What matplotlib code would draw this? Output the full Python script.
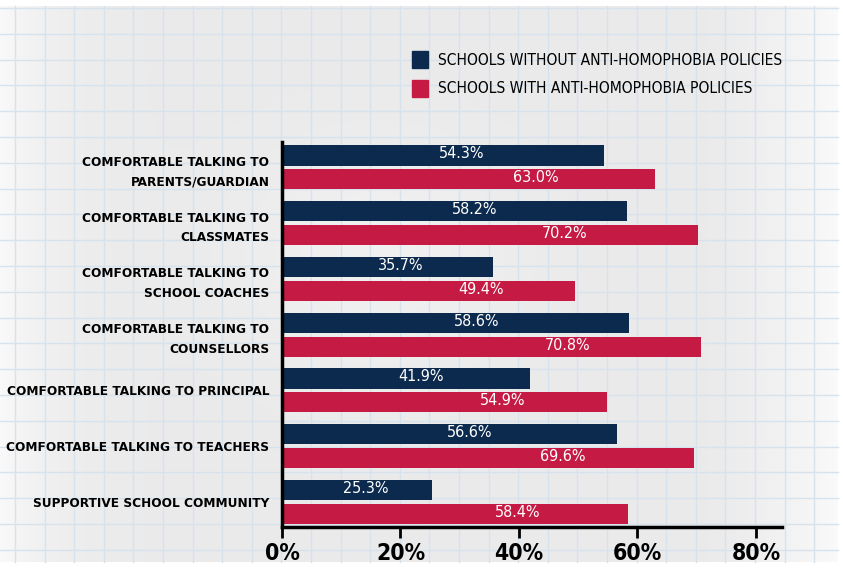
import matplotlib
matplotlib.use('Agg')
import matplotlib.pyplot as plt
import numpy as np
from matplotlib.patches import Patch

plt.rcParams['font.family'] = ['DejaVu Sans']
plt.rcParams['font.stretch'] = 'condensed'

# data
categories = ['COMFORTABLE TALKING TO\nPARENTS/GUARDIAN',
              'COMFORTABLE TALKING TO\nCLASSMATES',
              'COMFORTABLE TALKING TO\nSCHOOL COACHES',
              'COMFORTABLE TALKING TO\nCOUNSELLORS',
              'COMFORTABLE TALKING TO PRINCIPAL',
              'COMFORTABLE TALKING TO TEACHERS',
              'SUPPORTIVE SCHOOL COMMUNITY']
without_policy = [54.3, 58.2, 35.7, 58.6, 41.9, 56.6, 25.3]
with_policy = [63.0, 70.2, 49.4, 70.8, 54.9, 69.6, 58.4]
series_names = ['SCHOOLS WITHOUT ANTI-HOMOPHOBIA POLICIES',
                'SCHOOLS WITH ANTI-HOMOPHOBIA POLICIES']
x_ticks = [0, 20, 40, 60, 80]

navy = '#0c2a4e'
red = '#c51a44'
grid_blue = '#d6e3ed'

W, H = 843, 568
fig = plt.figure(figsize=(W / 100, H / 100), dpi=100)
fig.patch.set_facecolor('white')

# graph paper background
bg = fig.add_axes([0, 0, 1, 1])
bg.set_xlim(0, W)
bg.set_ylim(H, 0)
bg.axis('off')
xx = np.linspace(0, 1, 400)
yy = np.linspace(0, 1, 300)
gx, gy = np.meshgrid(xx, yy)
shade = 0.918 + 0.06 * np.exp(-(gx / 0.06)) + 0.06 * np.clip((gx - 0.82) / 0.18, 0, 1) ** 1.5
shade += 0.025 * np.exp(-((gx - 0.45) ** 2 / 0.03 + (gy - 0.45) ** 2 / 0.05))
shade = np.clip(shade, 0, 1)
bg.imshow(np.dstack([shade, shade, np.clip(shade * 1.004, 0, 1)]),
          extent=[0, 838, 562, 6], aspect='auto', zorder=0, interpolation='bilinear')
for gxl in np.arange(15, 838, 29.6):
    bg.plot([gxl, gxl], [6, 562], color=grid_blue, lw=1, zorder=1)
for gyl in np.arange(8, 562, 25.8):
    bg.plot([0, 838], [gyl, gyl], color=grid_blue, lw=1, zorder=1)

# chart
ax = fig.add_axes([282 / W, 1 - 527 / H, 500 / W, (527 - 142) / H])
ax.patch.set_alpha(0)
y = np.arange(len(categories))
off = 0.215
h = 0.36
ax.barh(y - off, without_policy, height=h, color=navy, label=series_names[0])
ax.barh(y + off, with_policy, height=h, color=red, label=series_names[1])

for i in range(len(categories)):
    ax.text(without_policy[i] * 0.56, y[i] - off - 0.03, f'{without_policy[i]:.1f}%',
            color='white', ha='center', va='center', fontsize=11.5)
    ax.text(with_policy[i] * 0.68, y[i] + off - 0.03, f'{with_policy[i]:.1f}%',
            color='white', ha='center', va='center', fontsize=11.5)

ax.set_xlim(0, 84.4)
ax.set_ylim(6.449, -0.457)
ax.set_yticks(y)
ax.set_yticklabels(categories, fontsize=9.7, fontweight='bold', linespacing=1.65)
ax.tick_params(axis='y', length=0, pad=9)
ax.set_xticks(x_ticks)
ax.set_xticklabels([f'{t}%' for t in x_ticks], fontsize=16.5, fontweight='bold')
ax.tick_params(axis='x', length=8, width=2, pad=3)
for s in ['top', 'right']:
    ax.spines[s].set_visible(False)
for s in ['left', 'bottom']:
    ax.spines[s].set_linewidth(2.5)

handles = [Patch(color=navy), Patch(color=red)]
fig.legend(handles, series_names, loc='upper left', bbox_to_anchor=(398 / W, 1 - 37 / H),
           frameon=False, fontsize=11.2, handlelength=1.0, handleheight=1.3,
           handletextpad=0.7, labelspacing=0.75)

fig.savefig('out.png', dpi=100)
